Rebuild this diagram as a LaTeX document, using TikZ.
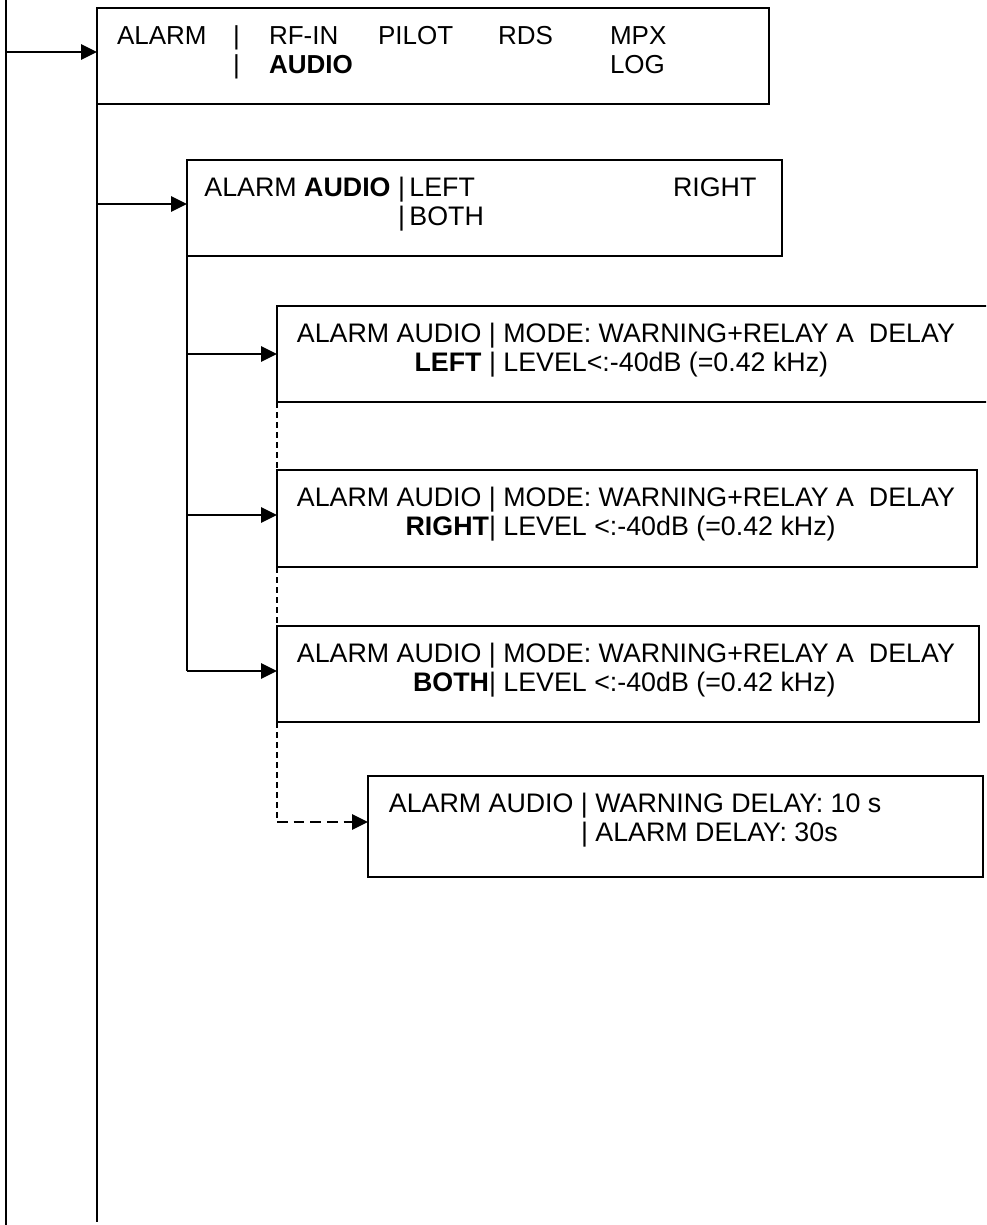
\documentclass[tikz,border=0pt]{standalone}
\usepackage{fontspec}
\setmainfont{Liberation Sans}
\usetikzlibrary{arrows.meta}
\begin{document}
\begin{tikzpicture}[x=0.75pt,y=-0.75pt,
  line width=1.4pt,
  box/.style={draw,line width=1.4pt,anchor=north west,inner sep=0pt,outer sep=0pt},
  txt/.style={anchor=base west,inner sep=0pt,outer sep=0pt,font=\fontsize{19.5}{23}\selectfont},
  txtb/.style={txt,font=\fontsize{20.1}{24}\selectfont},
  arr/.style={-{Triangle[length=12pt,width=11.5pt]}},
  dv/.style={dash pattern=on 4.5pt off 3pt},
  dh/.style={dash pattern=on 8pt off 4.5pt}]
\useasboundingbox (0,0) rectangle (986,1225);
\clip (0,0) rectangle (986,1225);

% boxes
\node (b1) [box,minimum width=672*0.75pt,minimum height=96*0.75pt] at (97,8) {};
\node (b2) [box,minimum width=595*0.75pt,minimum height=96*0.75pt] at (187,160) {};
\node (b3) [box,minimum width=730*0.75pt,minimum height=96*0.75pt] at (277,306) {};
\node (b4) [box,minimum width=700*0.75pt,minimum height=97*0.75pt] at (277,470) {};
\node (b5) [box,minimum width=702*0.75pt,minimum height=96*0.75pt] at (277,626) {};
\node (b6) [box,minimum width=615*0.75pt,minimum height=101*0.75pt] at (368,776) {};

% texts box 1
\node (t1a) [txt] at (117,44) {ALARM};
\node (t1b) [txt] at (233,44) {|};
\node (t1c) [txt] at (269,44) {RF-IN};
\node (t1d) [txt] at (378,44) {PILOT};
\node (t1e) [txt] at (498,44) {RDS};
\node (t1f) [txt] at (610,44) {MPX};
\node (t1g) [txt] at (233,73) {|};
\node (t1h) [txt] at (269,73) {\textbf{AUDIO}};
\node (t1i) [txt] at (610,73) {LOG};

% texts box 2
\node (t2a) [txtb] at (398,196) {\llap{ALARM \textbf{AUDIO} }|\,LEFT};
\node (t2b) [txtb] at (673,196) {RIGHT};
\node (t2c) [txtb] at (398,225) {|\,BOTH};

% texts box 3
\node (t3a) [txtb] at (489,342) {\llap{ALARM AUDIO }| MODE: WARNING+RELAY A\ \ DELAY};
\node (t3b) [txtb] at (489,371) {\llap{\textbf{LEFT} }| LEVEL<:-40dB (=0.42 kHz)};

% texts box 4
\node (t4a) [txtb] at (489,506) {\llap{ALARM AUDIO }| MODE: WARNING+RELAY A\ \ DELAY};
\node (t4b) [txtb] at (489,535) {\llap{\textbf{RIGHT}}| LEVEL <:-40dB (=0.42 kHz)};

% texts box 5
\node (t5a) [txtb] at (489,662) {\llap{ALARM AUDIO }| MODE: WARNING+RELAY A\ \ DELAY};
\node (t5b) [txtb] at (489,691) {\llap{\textbf{BOTH}}| LEVEL <:-40dB (=0.42 kHz)};

% texts box 6
\node (t6a) [txtb] at (581,812) {\llap{ALARM AUDIO }| WARNING DELAY: 10 s};
\node (t6b) [txtb] at (581,841) {| ALARM DELAY: 30s};

% trunk lines
\coordinate (topA) at (6,0);
\coordinate (botA) at (6,1225);
\coordinate (botB) at (97,1222);
\draw (topA) -- (botA);
\draw (b1.south west) -- (botB);

\coordinate (j1) at (6,52);
\draw[arr] (j1) -- (j1 -| b1.west);
\coordinate (j2) at (97,204);
\draw[arr] (j2) -- (j2 -| b2.west);

\coordinate (j3) at (187,354);
\coordinate (j4) at (187,515);
\coordinate (j5) at (187,671);
\draw (b2.south west) -- (j5);
\draw[arr] (j3) -- (j3 -| b3.west);
\draw[arr] (j4) -- (j4 -| b4.west);
\draw[arr] (j5) -- (j5 -| b5.west);

% dashed
\coordinate (c6) at (277,822);
\draw[dv] (b3.south west) -- (b4.north west);
\draw[dv] (b4.south west) -- (b5.north west);
\draw[dv] (b5.south west) -- (c6);
\draw[dh,arr] (c6) -- (c6 -| b6.west);
\end{tikzpicture}
\end{document}
